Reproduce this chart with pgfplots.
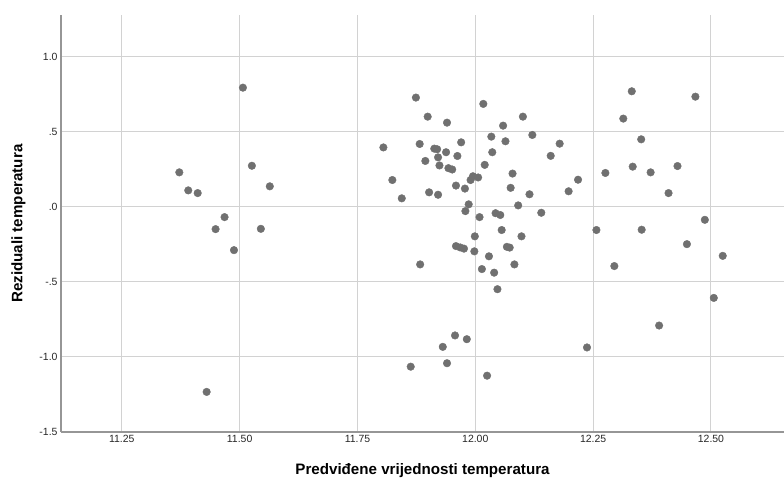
\documentclass[border=0pt]{standalone}
\usepackage{fontspec}
\setmainfont{Liberation Sans}
\usepackage{pgfplots}
\pgfplotsset{compat=1.18}
\definecolor{punkt}{RGB}{112,112,112}
\definecolor{mreza}{RGB}{210,210,210}
\definecolor{osa}{RGB}{150,150,150}
\begin{document}
\begin{tikzpicture}[x=1bp,y=1bp]
\path[use as bounding box] (-61,-48.3) rectangle (723,432);
\begin{axis}[at={(0,0)}, anchor=south west, scale only axis,
  width=723bp, height=416.7bp,
  xmin=11.121, xmax=12.655, ymin=-1.5, ymax=1.275,
  axis x line*=bottom, axis y line*=left,
  axis line style={osa, line width=1.2bp, -},
  xtick={11.25,11.5,11.75,12,12.25,12.5},
  xticklabels={11.25,11.50,11.75,12.00,12.25,12.50},
  ytick={-1.5,-1,-0.5,0,0.5,1},
  yticklabels={-1.5,-1.0,-.5,.0,.5,1.0},
  grid=major, major grid style={mreza, line width=1bp},
  major tick length=0pt,
  tick label style={font=\fontsize{10.5}{12}\selectfont, text=black!85},
  xlabel={Predviđene vrijednosti temperatura},
  ylabel={Reziduali temperatura},
  label style={font=\fontsize{15.2}{17}\selectfont\bfseries},
  xlabel style={at={(axis description cs:0.5,-0.0919)}, anchor=center},
  ylabel style={at={(axis description cs:-0.0588,0.5)}, anchor=center, rotate=0},
  clip=false]
\addplot[only marks, mark=*, mark size=3.8bp, mark options={fill=punkt, draw=punkt}] table {
x y
11.507 0.793
11.372 0.229
11.391 0.109
11.411 0.091
11.468 -0.069
11.449 -0.149
11.526 0.273
11.545 -0.147
11.488 -0.289
11.430 -1.233
11.564 0.136
11.805 0.395
11.824 0.178
11.844 0.056
11.863 -1.065
11.874 0.727
11.882 0.418
11.883 -0.384
11.894 0.305
11.899 0.600
11.902 0.096
11.913 0.387
11.919 0.383
11.921 0.329
11.921 0.080
11.924 0.275
11.931 -0.933
11.938 0.363
11.940 0.560
11.940 -1.042
11.943 0.257
11.951 0.248
11.957 -0.857
11.959 0.141
11.959 -0.262
11.962 0.338
11.968 -0.271
11.970 0.429
11.976 -0.279
11.978 0.121
11.979 -0.029
11.982 -0.882
11.986 0.016
11.990 0.178
11.995 0.203
11.999 -0.197
11.998 -0.297
12.006 0.195
12.009 -0.069
12.014 -0.415
12.017 0.685
12.020 0.279
12.025 -1.125
12.029 -0.330
12.034 0.467
12.036 0.363
12.040 -0.439
12.043 -0.043
12.047 -0.549
12.053 -0.055
12.056 -0.155
12.059 0.540
12.064 0.436
12.067 -0.267
12.073 -0.272
12.075 0.126
12.079 0.221
12.083 -0.384
12.091 0.009
12.098 -0.197
12.101 0.600
12.115 0.083
12.121 0.478
12.140 -0.040
12.160 0.339
12.179 0.420
12.198 0.103
12.218 0.180
12.237 -0.937
12.257 -0.155
12.276 0.225
12.295 -0.395
12.314 0.587
12.332 0.769
12.334 0.267
12.352 0.449
12.353 -0.153
12.372 0.229
12.390 -0.791
12.410 0.091
12.429 0.271
12.449 -0.249
12.467 0.733
12.487 -0.087
12.506 -0.607
12.525 -0.327
};
\end{axis}
\end{tikzpicture}
\end{document}
